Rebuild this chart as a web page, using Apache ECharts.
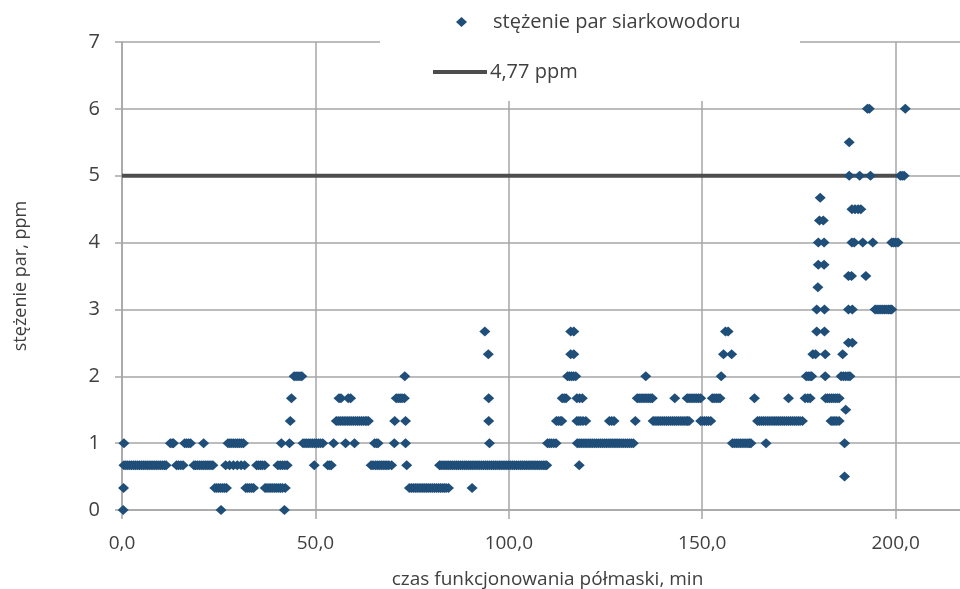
<!DOCTYPE html>
<html>
<head>
<meta charset="utf-8">
<script src="https://cdn.jsdelivr.net/npm/echarts@6/dist/echarts.min.js"></script>
<style>
  html, body { margin: 0; padding: 0; background: #fff; }
  #main { width: 960px; height: 589px; }
</style>
</head>
<body>
<div id="main"></div>
<script>
// x positions (min) of the points, grouped by the concentration level (ppm)
var lv0 = [0.3, 25.6, 42];
var lv033 = [0.4, 24, 24.5, 25, 25.5, 26, 26.5, 27, 32, 32.5, 33, 33.5, 34,
  37, 37.5, 38, 38.5, 39, 39.5, 40, 40.5, 41, 41.5, 42.2,
  74.3, 74.8, 75.3, 75.8, 76.3, 76.8, 77.3, 77.8, 78.3, 78.8, 79.3, 79.8, 80.3,
  80.8, 81.3, 81.8, 82.3, 82.8, 83.3, 83.8, 84.4, 90.5];
var lv05 = [186.8];
var lv067 = [0.5, 1, 1.5, 2, 2.5, 3, 3.5, 4, 4.5, 5, 5.5, 6, 6.5, 7, 7.5, 8, 8.5,
  9, 9.5, 10, 10.5, 11, 11.4,
  14.1, 14.6, 15.2, 15.8, 18.6, 19, 19.5, 20, 20.5, 21, 21.5, 22, 22.5, 23, 23.5,
  26.8, 27.8, 28.8, 29.8, 30.8, 31.7, 34.8, 35.3, 35.8, 36.3, 36.9,
  40.3, 40.9, 41.5, 42.1, 42.7, 49.7, 53.2, 53.7, 54.1,
  64.4, 64.9, 65.5, 66, 66.5, 67, 67.5, 68, 68.5, 69, 69.7, 73.6,
  82.1, 82.5, 83, 83.5, 84, 84.5, 85, 85.5, 86, 86.5, 87, 87.5, 88, 88.5, 89, 89.5,
  90, 90.5, 91, 91.5, 92, 92.5, 93, 93.5, 94, 94.5, 95, 95.5, 96, 96.5, 97, 97.5,
  98, 98.5, 99, 99.5, 100, 100.5, 101, 101.5, 102, 102.5, 103, 103.5, 104, 104.5,
  105, 105.5, 106, 106.5, 107, 107.5, 108, 108.5, 109, 109.4, 109.8, 118.2];
var lv1 = [0.5, 12.5, 13, 13.3, 16.2, 16.7, 17.2, 17.7, 21.1,
  27.4, 27.9, 28.4, 28.9, 29.4, 29.9, 30.4, 30.9, 31.4,
  41.2, 43.3, 46.8, 47.3, 47.8, 48.3, 48.8, 49.3, 49.8, 50.3, 50.8, 51.3, 51.9,
  54.7, 57.8, 60.1, 65.3, 65.8, 66.2, 70.4, 73.3, 95, 110, 110.5, 111, 111.6, 112.2,
  117.7, 118.2, 118.7, 119.2, 119.7, 120.2, 120.7, 121.2, 121.7, 122.2, 122.7,
  123.2, 123.7, 124.2, 124.7, 125.2, 125.7, 126.2, 126.7, 127.2, 127.7, 128.2,
  128.7, 129.2, 129.7, 130.2, 130.7, 131.2, 131.7, 132.2,
  157.8, 158.3, 158.8, 159.3, 159.8, 160.3, 160.8, 161.3, 161.8, 162.2, 162.6,
  166.5, 186.8];
var lv133 = [43.5, 55.4, 55.9, 56.4, 56.9, 57.4, 57.9, 58.4, 58.9, 59.4, 59.9,
  60.4, 60.9, 61.4, 61.9, 62.4, 62.9, 63.3, 63.7, 70.5, 73.3,
  94.8, 112.3, 112.8, 113.3, 113.7, 117.6, 118.1, 118.6, 119.2, 119.9, 126, 126.6, 127.2, 132.7,
  137.3, 137.8, 138.3, 138.8, 139.3, 139.8, 140.3, 140.8, 141.3, 141.8, 142.3,
  142.8, 143.3, 143.8, 144.3, 144.8, 145.3, 145.8, 146.2, 146.6,
  149.6, 150.1, 150.6, 151.1, 151.6, 152.2,
  164.3, 164.8, 165.3, 165.8, 166.3, 166.8, 167.3, 167.8, 168.3, 168.8, 169.3,
  169.8, 170.3, 170.8, 171.3, 171.8, 172.3, 172.8, 173.3, 173.8, 174.3, 174.8,
  175.3, 175.9, 183.3, 183.8, 184.3, 184.8, 185.4];
var lv15 = [187.1];
var lv167 = [43.8, 56.1, 56.6, 58.5, 59.1, 70.9, 71.4, 71.9, 72.4, 73, 94.8,
  113.8, 114.3, 114.8, 117.6, 118.3, 119,
  133.2, 133.7, 134.2, 134.7, 135.2, 135.7, 136.2, 136.7, 137.1, 142.9,
  146.1, 146.6, 147.1, 147.6, 148.1, 148.6, 149.1, 149.6,
  152.6, 153.1, 153.6, 154.1, 154.6, 163.5, 172.3,
  176.6, 177.3, 177.9, 181.9, 182.4, 182.9, 183.4, 183.9, 184.4, 184.9, 185.4];
var lv2 = [44.5, 45, 45.5, 46, 46.5, 73.1, 115.2, 115.7, 116.2, 116.7, 117.3, 135.4, 154.9,
  176.9, 177.4, 177.9, 178.3, 181.8, 185.9, 186.5, 187.1, 187.7, 188.2];
var lv233 = [94.7, 116, 116.8, 155.5, 157.6, 178.6, 179.3, 181.8, 186.3];
var lv25 = [187.8, 188.8];
var lv267 = [93.8, 116, 116.8, 156, 156.7, 179.6, 181.6];
var lv3 = [179.6, 181.6, 187.8, 188.8, 194.7, 195.2, 195.7, 196.2, 196.7, 197.2,
  197.7, 198.2, 198.6, 199];
var lv333 = [179.9];
var lv35 = [187.8, 188.6, 192.3];
var lv367 = [180, 181.5];
var lv4 = [180, 181.5, 188.7, 189.3, 191.5, 194.1, 199, 199.5, 200, 200.6];
var lv433 = [180.3, 181.3];
var lv45 = [188.7, 189.5, 190.3, 191];
var lv467 = [180.5];
var lv5 = [188, 190.7, 193.5, 201.2, 201.7, 202.2];
var lv55 = [188];
var lv6 = [192.7, 193.2, 202.5];

var levels = [
  [0, lv0], [0.33, lv033], [0.5, lv05], [0.67, lv067], [1, lv1], [1.33, lv133],
  [1.5, lv15], [1.67, lv167], [2, lv2], [2.33, lv233], [2.5, lv25], [2.67, lv267],
  [3, lv3], [3.33, lv333], [3.5, lv35], [3.67, lv367], [4, lv4], [4.33, lv433],
  [4.5, lv45], [4.67, lv467], [5, lv5], [5.5, lv55], [6, lv6]
];

// limit line
var limitName = "4,77 ppm";
var limitLine = [[0, 5], [203, 5]];
var seriesName = "stężenie par siarkowodoru";

var points = [];
levels.forEach(function (lv) {
  lv[1].forEach(function (x) {
    points.push([x, lv[0]]);
  });
});

var font = "Open Sans";
var txt = "#404040";
var gridColor = "#a6a6a6";

var chart = echarts.init(document.getElementById("main"));
var option = {
  animation: false,
  textStyle: { fontFamily: font },
  grid: { left: 122, right: -13, top: 42, bottom: 79, outerBoundsMode: "none", containLabel: false },
  graphic: [{
    type: "rect",
    left: 380, top: 0, z: 3,
    shape: { width: 420, height: 101 },
    style: { fill: "#fff" }
  }],
  legend: [
    {
      data: [seriesName],
      left: 456, top: 12, padding: 0,
      itemWidth: 11, itemHeight: 10,
      icon: "diamond",
      z: 5,
      textStyle: { fontFamily: font, fontSize: 20, color: txt, padding: [0, 0, 0, 21] }
    },
    {
      data: [limitName],
      left: 433, top: 62, padding: 0,
      itemWidth: 54, itemHeight: 4,
      icon: "rect",
      z: 5,
      textStyle: { fontFamily: font, fontSize: 20, color: txt, padding: [0, 0, 0, -2] }
    }
  ],
  xAxis: {
    type: "value",
    min: 0, max: 220, interval: 50,
    name: "czas funkcjonowania półmaski, min",
    nameLocation: "middle",
    nameGap: 60,
    nameTextStyle: { fontSize: 19, color: txt },
    axisLine: { show: true, lineStyle: { color: gridColor, width: 1.5 } },
    axisTick: { show: true, length: 9, lineStyle: { color: gridColor, width: 1.5 } },
    splitLine: { show: true, lineStyle: { color: gridColor, width: 1.5 } },
    axisLabel: {
      fontSize: 19, color: txt, margin: 24, showMaxLabel: false,
      formatter: function (v) { return v.toFixed(1).replace(".", ","); }
    }
  },
  yAxis: {
    type: "value",
    min: 0, max: 7, interval: 1,
    name: "stężenie par, ppm",
    nameLocation: "middle",
    nameGap: 92,
    nameTextStyle: { fontSize: 18, color: txt },
    axisLine: { show: true, lineStyle: { color: gridColor, width: 1.5 } },
    axisTick: { show: true, length: 7, lineStyle: { color: gridColor, width: 1.5 } },
    splitLine: { show: true, lineStyle: { color: gridColor, width: 1.5 } },
    axisLabel: { fontSize: 20, color: txt, margin: 22 }
  },
  series: [
    {
      name: seriesName,
      type: "scatter",
      symbol: "diamond",
      symbolSize: [11, 10],
      itemStyle: { color: "#1f4e79", opacity: 1 },
      data: points,
      z: 3
    },
    {
      name: limitName,
      type: "line",
      symbol: "none",
      lineStyle: { color: "#4d4d4d", width: 4 },
      itemStyle: { color: "#4d4d4d" },
      data: limitLine,
      z: 2
    }
  ]
};
chart.setOption(option);
</script>
</body>
</html>
